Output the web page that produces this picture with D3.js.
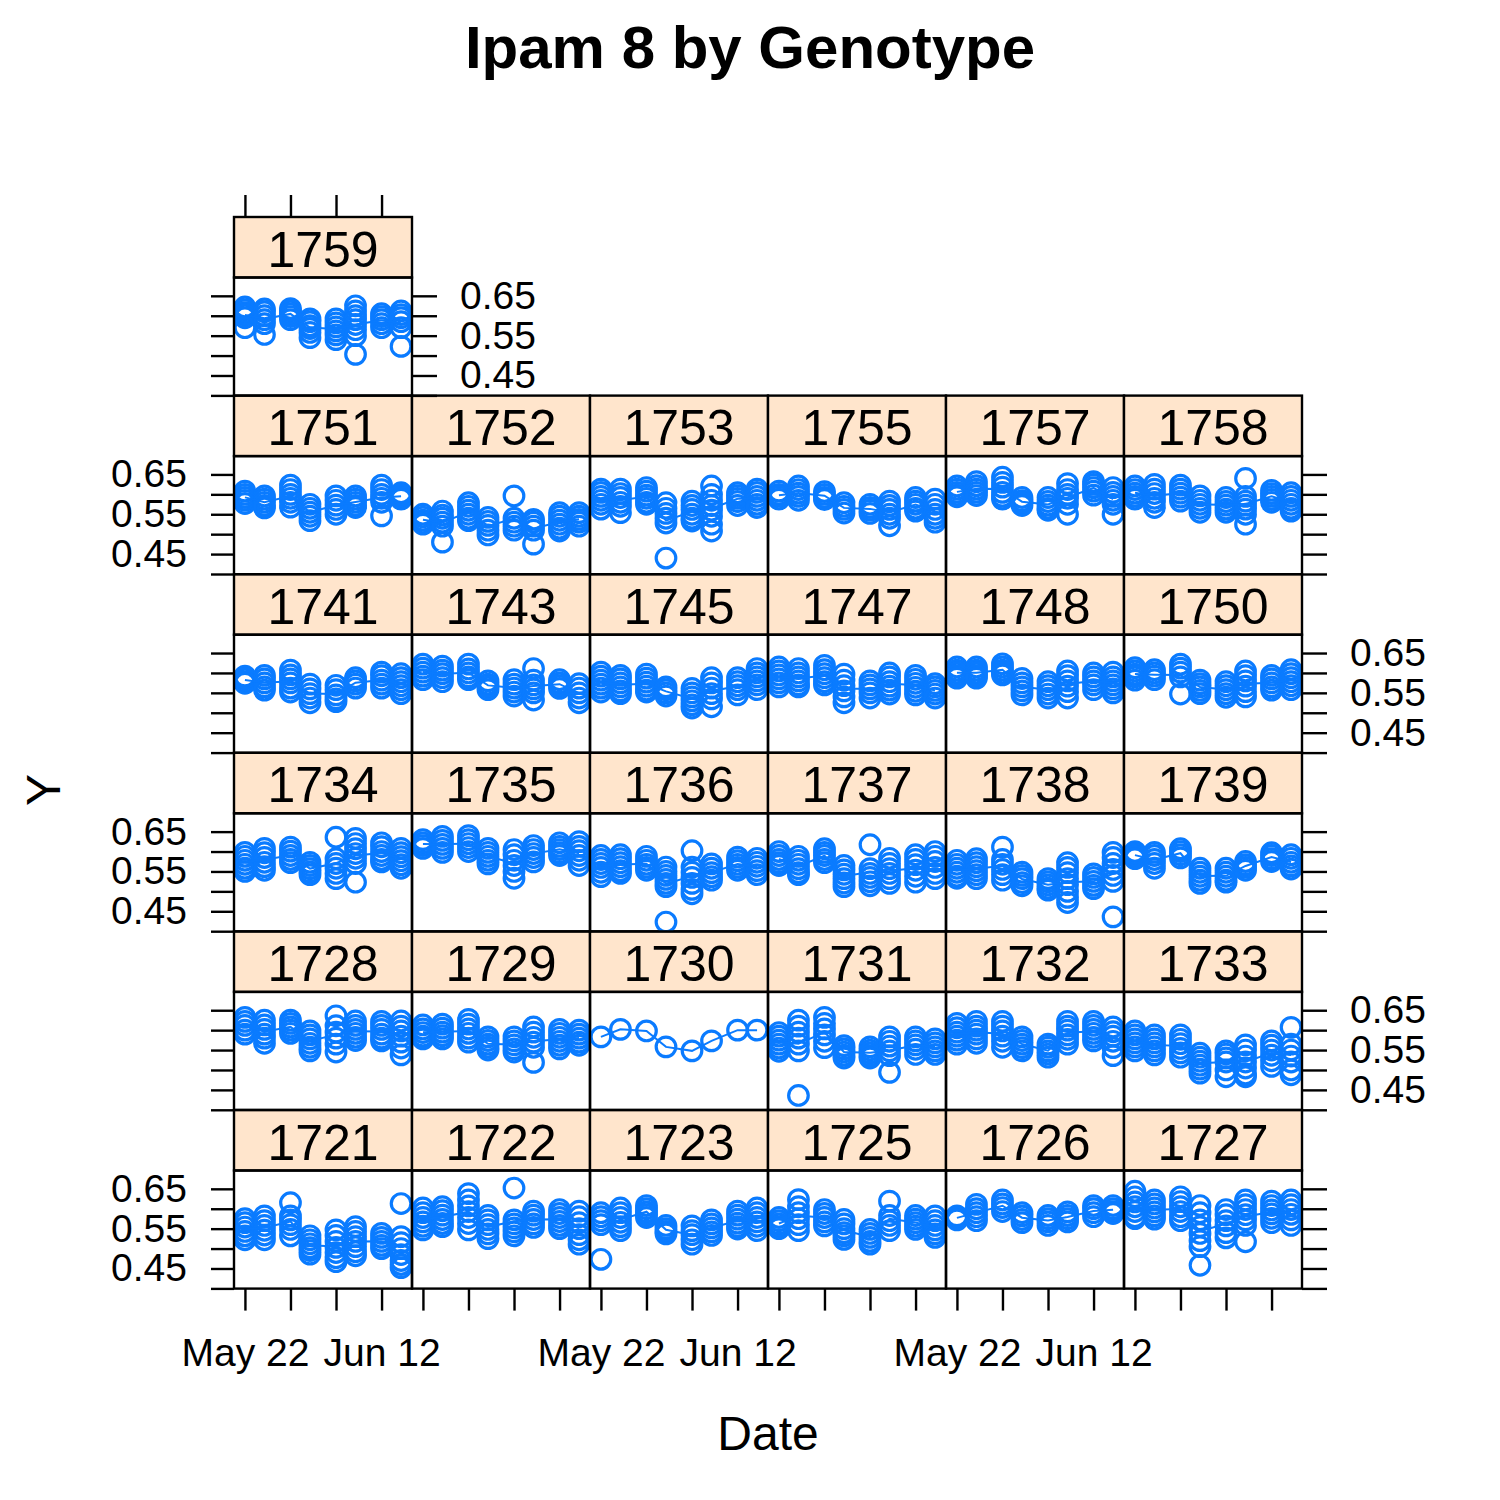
<!DOCTYPE html>
<html>
<head>
<meta charset="utf-8">
<script src="https://cdn.jsdelivr.net/npm/d3@7"></script>
<style>
  body { margin: 0; background: #fff; }
  text { font-family: "Liberation Sans", Arial, Helvetica, sans-serif; }
</style>
</head>
<body>
<div id="chart"></div>
<script>
// panels, in lattice order (bottom-left first, left to right, then up)
const genotypes = ["1721","1722","1723","1725","1726","1727",
                   "1728","1729","1730","1731","1732","1733",
                   "1734","1735","1736","1737","1738","1739",
                   "1741","1743","1745","1747","1748","1750",
                   "1751","1752","1753","1755","1757","1758",
                   "1759"];
const obsDates = ["2017-05-22","2017-05-25","2017-05-29","2017-06-01",
                  "2017-06-05","2017-06-08","2017-06-12","2017-06-15"];
const xTickDates = ["2017-05-22","2017-05-29","2017-06-05","2017-06-12"];
const xTickLabels = ["May 22","May 29","Jun 05","Jun 12"];
const yTicks = [0.40, 0.45, 0.50, 0.55, 0.60, 0.65, 0.70];
const yTickLabels = ["", "0.45", "", "0.55", "", "0.65", ""];

// Y values per date (one inner list per date in obsDates)
const g1721 = [[0.575,0.565,0.554,0.543,0.532,0.522],[0.582,0.57,0.558,0.546,0.534,0.522],[0.615,0.582,0.572,0.56,0.548,0.532],[0.532,0.522,0.512,0.502,0.495,0.486],
               [0.547,0.533,0.518,0.503,0.49,0.477,0.467],[0.555,0.543,0.53,0.518,0.505,0.492,0.482],[0.538,0.528,0.518,0.508,0.5],[0.613,0.53,0.515,0.5,0.485,0.47,0.46,0.452]];
const g1722 = [[0.602,0.59,0.578,0.567,0.556,0.547],[0.605,0.595,0.584,0.573,0.563,0.555],[0.638,0.622,0.607,0.593,0.578,0.563,0.547],[0.583,0.572,0.56,0.548,0.537,0.525],
               [0.652,0.572,0.562,0.552,0.542,0.532],[0.594,0.584,0.573,0.562,0.553],[0.598,0.588,0.578,0.568,0.558,0.55],[0.594,0.58,0.565,0.55,0.535,0.522,0.511]];
const g1723 = [[0.59,0.58,0.57,0.56,0.473],[0.602,0.59,0.578,0.566,0.555,0.545],[0.608,0.6,0.592,0.585,0.578],[0.558,0.55,0.543,0.537],
               [0.557,0.545,0.535,0.522,0.511],[0.572,0.562,0.552,0.542,0.533],[0.594,0.584,0.574,0.564,0.555,0.549],[0.602,0.59,0.578,0.567,0.556,0.545]];
const g1725 = [[0.578,0.57,0.562,0.555,0.55],[0.623,0.605,0.59,0.575,0.56,0.545],[0.598,0.588,0.578,0.567,0.557],[0.573,0.562,0.55,0.54,0.532,0.523],
               [0.548,0.538,0.528,0.518,0.511],[0.619,0.583,0.57,0.558,0.545],[0.583,0.574,0.565,0.556,0.548],[0.582,0.57,0.558,0.547,0.537,0.528]];
const g1726 = [[0.582,0.577,0.572],[0.611,0.6,0.59,0.58,0.57],[0.622,0.612,0.603,0.593],[0.59,0.582,0.573,0.565],
               [0.583,0.575,0.567,0.558],[0.592,0.583,0.575,0.567],[0.608,0.6,0.59,0.58],[0.608,0.6,0.593,0.588]];
const g1727 = [[0.644,0.63,0.617,0.605,0.593,0.58,0.575],[0.622,0.612,0.602,0.592,0.582,0.574],[0.63,0.618,0.605,0.593,0.58,0.57],[0.608,0.59,0.572,0.555,0.538,0.52,0.505,0.458],
               [0.598,0.585,0.57,0.557,0.54,0.527],[0.622,0.61,0.598,0.585,0.572,0.558,0.517],[0.619,0.608,0.597,0.587,0.576,0.565],[0.622,0.61,0.598,0.586,0.572,0.558]];
const g1728 = [[0.632,0.622,0.612,0.6,0.59],[0.625,0.613,0.602,0.59,0.58,0.567],[0.625,0.617,0.608,0.6,0.592],[0.598,0.588,0.578,0.567,0.557,0.548],
               [0.636,0.611,0.595,0.58,0.565,0.545],[0.623,0.612,0.602,0.592,0.582,0.574],[0.622,0.612,0.602,0.59,0.58,0.573],[0.623,0.61,0.598,0.585,0.57,0.555,0.538]];
const g1729 = [[0.613,0.603,0.594,0.585,0.578],[0.615,0.605,0.595,0.586,0.578],[0.627,0.615,0.603,0.592,0.58,0.57],[0.583,0.574,0.565,0.557,0.55],
               [0.583,0.573,0.563,0.553,0.545],[0.608,0.595,0.582,0.57,0.557,0.519],[0.602,0.592,0.582,0.572,0.562,0.553],[0.6,0.59,0.58,0.57,0.562]];
const g1730 = [[0.583],[0.602],[0.598],[0.558],[0.548],[0.573],[0.6],[0.6]];
const g1731 = [[0.594,0.585,0.575,0.565,0.555,0.547],[0.625,0.61,0.595,0.58,0.565,0.548,0.436],[0.632,0.617,0.603,0.588,0.572,0.556],[0.561,0.553,0.545,0.537,0.53],
               [0.558,0.55,0.543,0.536,0.53],[0.583,0.572,0.56,0.548,0.536,0.494],[0.583,0.573,0.563,0.552,0.539],[0.578,0.568,0.558,0.548,0.539]];
const g1732 = [[0.617,0.606,0.595,0.585,0.575,0.565],[0.622,0.61,0.6,0.59,0.578,0.567],[0.622,0.61,0.598,0.585,0.572,0.557],[0.583,0.574,0.565,0.556,0.548],
               [0.565,0.557,0.548,0.54,0.532],[0.622,0.61,0.6,0.588,0.577,0.565],[0.622,0.612,0.602,0.592,0.582,0.573],[0.608,0.596,0.585,0.572,0.556,0.536]];
const g1733 = [[0.598,0.588,0.578,0.568,0.558,0.548],[0.588,0.578,0.568,0.558,0.548,0.538],[0.588,0.577,0.566,0.554,0.543,0.532],[0.542,0.532,0.522,0.512,0.502,0.492],
               [0.548,0.54,0.53,0.52,0.5,0.483],[0.563,0.55,0.535,0.52,0.505,0.49,0.483],[0.573,0.562,0.55,0.537,0.523,0.509],[0.607,0.565,0.55,0.535,0.52,0.5,0.488]];
const g1734 = [[0.598,0.588,0.578,0.568,0.558,0.55],[0.608,0.597,0.585,0.573,0.562,0.553],[0.611,0.601,0.59,0.58,0.572],[0.573,0.565,0.557,0.549,0.542],
               [0.636,0.582,0.57,0.558,0.545,0.532],[0.633,0.62,0.607,0.595,0.583,0.57,0.523],[0.622,0.612,0.6,0.59,0.58,0.574],[0.608,0.597,0.587,0.577,0.567,0.558]];
const g1735 = [[0.63,0.622,0.615,0.608],[0.638,0.628,0.618,0.608,0.598],[0.64,0.63,0.62,0.61,0.6],[0.608,0.598,0.588,0.578,0.569],
               [0.605,0.592,0.578,0.565,0.55,0.533],[0.615,0.605,0.595,0.585,0.574],[0.622,0.613,0.605,0.597,0.59],[0.625,0.613,0.602,0.59,0.578,0.565]];
const g1736 = [[0.59,0.58,0.57,0.56,0.548,0.537],[0.592,0.582,0.572,0.562,0.552,0.545],[0.588,0.578,0.568,0.56,0.553],[0.561,0.55,0.54,0.53,0.52,0.512,0.423],
               [0.602,0.561,0.548,0.535,0.52,0.505,0.494],[0.569,0.558,0.547,0.537,0.528],[0.586,0.577,0.568,0.56,0.553],[0.583,0.573,0.563,0.552,0.542]];
const g1737 = [[0.6,0.59,0.58,0.572,0.565],[0.588,0.578,0.568,0.557,0.547,0.542],[0.607,0.598,0.59,0.58,0.572],[0.565,0.554,0.543,0.532,0.521,0.512],
               [0.617,0.557,0.545,0.535,0.524,0.514],[0.583,0.57,0.557,0.545,0.532,0.52],[0.592,0.58,0.567,0.553,0.538,0.523],[0.6,0.588,0.575,0.56,0.545,0.532]];
const g1738 = [[0.578,0.568,0.558,0.548,0.538,0.533],[0.582,0.572,0.562,0.552,0.542,0.532],[0.611,0.58,0.568,0.555,0.542,0.528],[0.548,0.54,0.532,0.522,0.514],
               [0.532,0.524,0.516,0.508,0.503],[0.572,0.56,0.547,0.532,0.517,0.5,0.485,0.472],[0.544,0.535,0.525,0.515,0.507],[0.598,0.585,0.57,0.555,0.54,0.525,0.436]];
const g1739 = [[0.6,0.594,0.588,0.582],[0.598,0.59,0.58,0.57,0.558],[0.607,0.6,0.592,0.584],[0.558,0.548,0.538,0.528,0.52],
               [0.558,0.548,0.538,0.528,0.523],[0.575,0.567,0.56,0.553],[0.597,0.59,0.582,0.575],[0.592,0.583,0.573,0.564,0.556]];
const g1741 = [[0.592,0.585,0.578,0.574],[0.594,0.585,0.575,0.565,0.557],[0.607,0.595,0.585,0.575,0.562,0.552],[0.572,0.56,0.548,0.537,0.525],
               [0.569,0.558,0.545,0.535,0.528],[0.588,0.58,0.572,0.562],[0.602,0.593,0.582,0.572,0.562],[0.598,0.588,0.578,0.568,0.558,0.548]];
const g1743 = [[0.622,0.612,0.602,0.592,0.583],[0.617,0.607,0.598,0.588,0.578],[0.622,0.61,0.6,0.59,0.583],[0.58,0.572,0.565,0.558],
               [0.583,0.572,0.562,0.552,0.542],[0.611,0.582,0.57,0.56,0.55,0.532],[0.583,0.575,0.568,0.561],[0.573,0.562,0.55,0.537,0.525]];
const g1745 = [[0.602,0.592,0.582,0.572,0.562,0.552],[0.594,0.585,0.575,0.565,0.555,0.548],[0.597,0.587,0.577,0.567,0.557,0.552],[0.565,0.558,0.55,0.542],
               [0.561,0.55,0.54,0.53,0.52,0.512],[0.588,0.575,0.562,0.548,0.535,0.515],[0.588,0.578,0.568,0.558,0.545],[0.611,0.6,0.59,0.58,0.57,0.558]];
const g1747 = [[0.615,0.605,0.595,0.585,0.575,0.565],[0.611,0.6,0.59,0.58,0.57,0.565],[0.619,0.608,0.598,0.588,0.578,0.57],[0.597,0.582,0.568,0.555,0.54,0.525],
               [0.58,0.57,0.56,0.55,0.537],[0.6,0.59,0.578,0.567,0.557,0.547],[0.594,0.584,0.574,0.564,0.554,0.545],[0.573,0.565,0.556,0.547,0.537]];
const g1748 = [[0.615,0.607,0.6,0.593,0.587],[0.615,0.607,0.6,0.593,0.587],[0.623,0.615,0.607,0.6,0.595],[0.586,0.575,0.565,0.555,0.545],
               [0.578,0.568,0.558,0.547,0.537],[0.605,0.593,0.58,0.567,0.553,0.537],[0.6,0.59,0.58,0.57,0.558],[0.602,0.59,0.58,0.57,0.56,0.55]];
const g1750 = [[0.613,0.605,0.597,0.59,0.582],[0.608,0.6,0.592,0.583],[0.622,0.612,0.602,0.59,0.547],[0.582,0.573,0.565,0.556,0.548],
               [0.578,0.568,0.558,0.548,0.539],[0.605,0.593,0.58,0.567,0.553,0.54],[0.594,0.585,0.575,0.565,0.557],[0.608,0.598,0.588,0.578,0.568,0.558]];
const g1751 = [[0.608,0.6,0.592,0.585,0.577],[0.596,0.588,0.58,0.572,0.566],[0.623,0.612,0.6,0.59,0.58,0.568],[0.575,0.565,0.555,0.545,0.534],
               [0.596,0.585,0.573,0.562,0.55],[0.596,0.588,0.58,0.572,0.567],[0.623,0.612,0.6,0.59,0.58,0.546],[0.604,0.598,0.592,0.588]];
const g1752 = [[0.55,0.543,0.535,0.528,0.525],[0.558,0.548,0.54,0.53,0.52,0.48],[0.579,0.57,0.56,0.55,0.54,0.534],[0.542,0.532,0.522,0.51,0.498],
               [0.596,0.54,0.53,0.52,0.51],[0.537,0.53,0.52,0.51,0.475],[0.554,0.545,0.535,0.525,0.515,0.508],[0.554,0.545,0.537,0.53,0.52]];
const g1753 = [[0.613,0.605,0.595,0.585,0.575,0.563],[0.613,0.602,0.592,0.58,0.57,0.554],[0.617,0.608,0.598,0.59,0.58,0.575],[0.579,0.565,0.552,0.54,0.528,0.44],
               [0.583,0.572,0.562,0.55,0.54,0.533],[0.621,0.6,0.585,0.572,0.56,0.545,0.525,0.508],[0.604,0.597,0.59,0.582,0.572],[0.613,0.605,0.595,0.585,0.575,0.567]];
const g1755 = [[0.608,0.6,0.595,0.588],[0.621,0.612,0.603,0.595,0.585],[0.607,0.6,0.592,0.587],[0.579,0.57,0.562,0.553],
               [0.575,0.567,0.56,0.552],[0.583,0.572,0.562,0.55,0.54,0.521],[0.592,0.583,0.575,0.565,0.558],[0.588,0.575,0.562,0.55,0.54,0.53]];
const g1757 = [[0.621,0.613,0.605,0.598,0.594],[0.632,0.622,0.613,0.605,0.597],[0.643,0.63,0.618,0.605,0.595,0.588],[0.592,0.584,0.578,0.572],
               [0.592,0.582,0.573,0.565,0.56],[0.627,0.612,0.6,0.59,0.575,0.55],[0.632,0.625,0.617,0.608,0.598],[0.617,0.605,0.595,0.585,0.575,0.55]];
const g1758 = [[0.621,0.612,0.603,0.595,0.588],[0.625,0.613,0.602,0.59,0.58,0.567],[0.623,0.613,0.603,0.593,0.583],[0.596,0.585,0.575,0.565,0.555],
               [0.592,0.582,0.573,0.563,0.555],[0.64,0.595,0.583,0.573,0.563,0.55,0.525],[0.61,0.602,0.595,0.587,0.58],[0.604,0.595,0.585,0.575,0.565,0.558]];
const g1759 = [[0.622,0.615,0.608,0.602,0.595,0.57],[0.617,0.61,0.6,0.59,0.58,0.553],[0.618,0.612,0.605,0.598,0.59],[0.592,0.585,0.575,0.568,0.558,0.545],
               [0.592,0.582,0.572,0.562,0.552,0.54],[0.625,0.612,0.6,0.59,0.578,0.565,0.55,0.503],[0.605,0.598,0.59,0.58,0.57],[0.612,0.603,0.595,0.585,0.57,0.523]];

const panelValues = [g1721,g1722,g1723,g1725,g1726,g1727,
                     g1728,g1729,g1730,g1731,g1732,g1733,
                     g1734,g1735,g1736,g1737,g1738,g1739,
                     g1741,g1743,g1745,g1747,g1748,g1750,
                     g1751,g1752,g1753,g1755,g1757,g1758,
                     g1759];

// layout
var W = 1500, H = 1500;
var nCol = 6, nRow = 6;
var left0 = 234, panelW = 178;
var top0 = 217, rowH = 178.6, stripH = 60.5;
var plotH = rowH - stripH;
var blue = "#0a7bff";
var fontTick = 39;

var parse = d3.timeParse("%Y-%m-%d");
var dates = obsDates.map(parse);
var span = dates[dates.length - 1] - dates[0];

var x = d3.scaleTime()
    .domain([new Date(+dates[0] - 0.07 * span), new Date(+dates[dates.length - 1] + 0.07 * span)])
    .range([0, panelW]);
var y = d3.scaleLinear()
    .domain([0.3995, 0.696])
    .range([plotH, 0]);

var svg = d3.select("#chart").append("svg")
    .attr("width", W)
    .attr("height", H);

svg.append("defs").append("clipPath")
    .attr("id", "clipPanel")
    .append("rect")
    .attr("width", panelW)
    .attr("height", plotH);

// title and axis titles
svg.append("text")
    .attr("x", 750).attr("y", 68)
    .attr("text-anchor", "middle")
    .style("font-size", "60px")
    .style("font-weight", "bold")
    .text("Ipam 8 by Genotype");

svg.append("text")
    .attr("x", 768).attr("y", 1450)
    .attr("text-anchor", "middle")
    .style("font-size", "48px")
    .text("Date");

svg.append("text")
    .attr("transform", "translate(60,790) rotate(-90)")
    .attr("text-anchor", "middle")
    .style("font-size", "48px")
    .text("Y");

var yInDomain = yTicks.map(function (v, i) { return { v: v, lab: yTickLabels[i] }; })
    .filter(function (t) { return t.v >= y.domain()[0] && t.v <= y.domain()[1]; });

function styleAxis(g) {
    g.select(".domain").remove();
    g.selectAll(".tick line").attr("stroke", "#000").attr("stroke-width", 2.4);
    g.selectAll(".tick text").attr("fill", "#000").style("font-size", fontTick + "px");
}

function yFormat(showLabels) {
    return function (d) {
        if (!showLabels) return "";
        var t = yInDomain.find(function (e) { return Math.abs(e.v - d) < 1e-9; });
        return t ? t.lab : "";
    };
}

var xTicks = xTickDates.map(parse);

genotypes.forEach(function (name, i) {
    var col = i % nCol;
    var rb = Math.floor(i / nCol);           // row counted from the bottom
    var gx = left0 + col * panelW;
    var gy = top0 + (nRow - 1 - rb) * rowH;
    var vals = panelValues[i];
    var lastInRow = (col === nCol - 1) || (i === genotypes.length - 1);

    var g = svg.append("g").attr("transform", "translate(" + gx + "," + gy + ")");

    // strip
    g.append("rect")
        .attr("width", panelW)
        .attr("height", stripH)
        .attr("fill", "#ffe5cc")
        .attr("stroke", "#000")
        .attr("stroke-width", 2.4);
    g.append("text")
        .attr("x", panelW / 2)
        .attr("y", 49.5)
        .attr("text-anchor", "middle")
        .style("font-size", "50px")
        .text(name);

    var p = g.append("g").attr("transform", "translate(0," + stripH + ")");

    var inner = p.append("g").attr("clip-path", "url(#clipPanel)");

    var pts = [];
    vals.forEach(function (arr, j) {
        arr.forEach(function (v) { pts.push({ d: dates[j], v: v }); });
    });

    inner.selectAll("circle")
        .data(pts)
        .enter().append("circle")
        .attr("cx", function (d) { return x(d.d); })
        .attr("cy", function (d) { return y(d.v); })
        .attr("r", 9.8)
        .attr("fill", "none")
        .attr("stroke", blue)
        .attr("stroke-width", 3.2);

    var means = vals.map(function (arr, j) { return { d: dates[j], v: d3.mean(arr) }; });
    inner.append("path")
        .datum(means)
        .attr("fill", "none")
        .attr("stroke", blue)
        .attr("stroke-width", 2)
        .attr("d", d3.line()
            .x(function (d) { return x(d.d); })
            .y(function (d) { return y(d.v); }));

    p.append("rect")
        .attr("width", panelW)
        .attr("height", plotH)
        .attr("fill", "none")
        .attr("stroke", "#000")
        .attr("stroke-width", 2.4);

    // left axis on the first column
    if (col === 0) {
        p.append("g")
            .call(d3.axisLeft(y)
                .tickValues(yInDomain.map(function (t) { return t.v; }))
                .tickSize(23).tickPadding(24)
                .tickFormat(yFormat(rb % 2 === 0)))
            .call(styleAxis);
    }
    // right axis on the last panel of each row
    if (lastInRow) {
        p.append("g")
            .attr("transform", "translate(" + panelW + ",0)")
            .call(d3.axisRight(y)
                .tickValues(yInDomain.map(function (t) { return t.v; }))
                .tickSize(25).tickPadding(23)
                .tickFormat(yFormat(rb % 2 === 1)))
            .call(styleAxis);
    }
    // bottom axis on the bottom row
    if (rb === 0) {
        var ax = p.append("g")
            .attr("transform", "translate(0," + plotH + ")")
            .call(d3.axisBottom(x)
                .tickValues(xTicks)
                .tickSize(22).tickPadding(28)
                .tickFormat(function (d, k) { return col % 2 === 0 ? xTickLabels[k] : ""; }))
            .call(styleAxis);
        // drop labels that would overlap the last one kept
        var lastRight = -Infinity;
        ax.selectAll(".tick text").each(function () {
            var node = this;
            if (!node.textContent) return;
            var bb = node.getBBox();
            var cx = x(d3.select(node.parentNode).datum());
            var l = cx - bb.width / 2, r = cx + bb.width / 2;
            if (l < lastRight) { d3.select(node).remove(); }
            else { lastRight = r; }
        });
    }
    // top ticks on the top row
    if (rb === nRow - 1) {
        g.append("g")
            .call(d3.axisTop(x)
                .tickValues(xTicks)
                .tickSize(22)
                .tickFormat(function () { return ""; }))
            .call(styleAxis);
    }
});
</script>
</body>
</html>
